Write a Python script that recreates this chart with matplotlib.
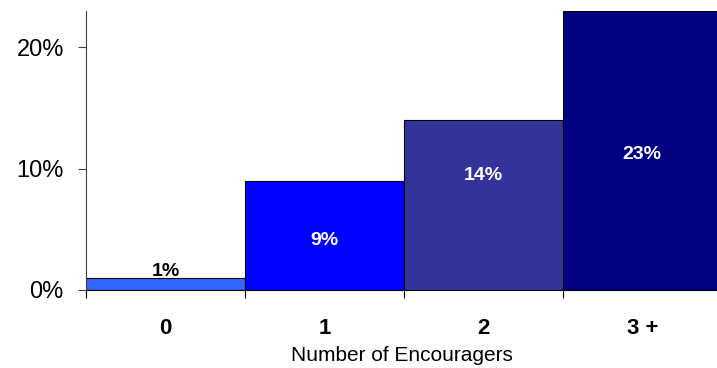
import matplotlib
matplotlib.use("Agg")
import matplotlib.pyplot as plt
from matplotlib.ticker import FixedLocator, NullFormatter

categories = ["0", "1", "2", "3 +"]
shares = [1, 9, 14, 23]
bar_labels = ["1%", "9%", "14%", "23%"]
label_y = [1.5, 4.1, 9.4, 11.2]
colors = ["#3366FF", "#0000FF", "#333399", "#000080"]
yticks = [0, 10, 20]

plt.rcParams["font.family"] = ["Liberation Sans", "DejaVu Sans"]

fig = plt.figure(figsize=(7.17, 3.68), dpi=100)
ax = fig.add_axes([86 / 717, 1 - 290 / 368, 1 - 86 / 717, (290 - 11) / 368])

x = list(range(len(categories)))
ax.bar(x, shares, width=1.0, color=colors, edgecolor="black", linewidth=0.8)

for i, lab in enumerate(bar_labels):
    ax.text(i, label_y[i], lab, ha="center", va="center", fontsize=14,
            fontweight="bold", color="black" if i == 0 else "white")

ax.set_xlim(-0.5, 3.47)
ax.set_ylim(0, 23)
ax.set_yticks(yticks)
ax.set_yticklabels([f"{t}%" for t in yticks], fontsize=17)

# tick marks at category boundaries, labels at centers
ax.xaxis.set_major_locator(FixedLocator([-0.5, 0.5, 1.5, 2.5]))
ax.xaxis.set_major_formatter(NullFormatter())
ax.xaxis.set_minor_locator(FixedLocator(x))
ax.set_xticklabels(categories, minor=True, fontsize=16, fontweight="bold")
ax.tick_params(axis="x", which="minor", length=0, pad=20)
ax.tick_params(axis="x", which="major", length=6, direction="out", color="black")
ax.tick_params(axis="y", length=6, direction="out", color="#404040", pad=10)

ax.set_xlabel("Number of Encouragers", fontsize=15, labelpad=5)

for s in ["top", "right"]:
    ax.spines[s].set_visible(False)
ax.spines["left"].set_color("#404040")
ax.spines["bottom"].set_color("black")

fig.savefig("out.png", dpi=100)
